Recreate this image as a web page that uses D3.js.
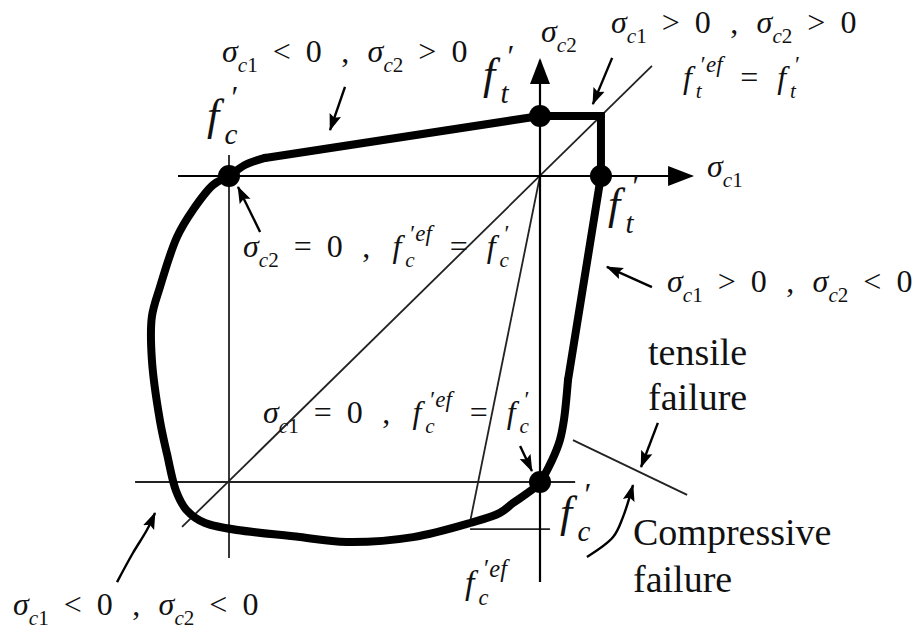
<!DOCTYPE html>
<html><head><meta charset="utf-8">
<script src="https://cdn.jsdelivr.net/npm/d3@7"></script>
<style>
html,body{margin:0;padding:0;background:#fff;}
svg{display:block;}
text{font-family:"Liberation Serif","Times New Roman",serif;fill:#111;}
</style></head><body>
<svg id="chart" width="921" height="632"></svg>
<script>
// Biaxial failure envelope of concrete; stresses normalised by f'c (compression negative).
const fc = -1;
const ft = 0.196;

// Smooth part of the envelope: compression-tension branch, compression-compression corner.
const envelopeCurved = [
  [0.090, -0.667], [0.077, -0.797], [0.064, -0.863], [0.039, -0.928], [0, -1.0],
  [-0.032, -1.03], [-0.087, -1.069], [-0.129, -1.101], [-0.225, -1.134], [-0.408, -1.180],
  [-0.621, -1.196], [-0.772, -1.180], [-1.077, -1.134], [-1.138, -1.09], [-1.170, -1.03],
  [-1.199, -0.91], [-1.222, -0.80], [-1.248, -0.60], [-1.248, -0.46], [-1.222, -0.363],
  [-1.167, -0.199], [-1.116, -0.111], [-1.051, -0.029], [-1, 0], [-0.949, 0.036], [-0.884, 0.059]
];
// Straight part: compression-tension line, tension cut-off square and tension-compression line.
const envelopeStraight = [
  [-0.884, 0.059], [0, ft], [ft, ft], [ft, 0], [0.090, -0.667]
];
// Uniaxial strength points on the envelope.
const keyPoints = [[fc, 0], [0, ft], [ft, 0], [0, fc]];

// Axes (with arrow heads) and construction lines.
const axisLines = [
  [[-1.164, 0], [0.489, 0]],
  [[0, -1.327], [0, 0.379]]
];
const guideLines = [
  [[fc, 0.069], [fc, -1.248]],          // sigma_c1 = f'c
  [[-1.302, fc], [0.113, fc]],          // sigma_c2 = f'c
  [[-1.151, -1.147], [0.36, 0.36]],     // equal biaxial ray
  [[0, 0], [-0.225, -1.131]],           // ray to f'c,ef
  [[-0.225, -1.154], [0.032, -1.154]],  // f'c,ef level
  [[0.106, -0.863], [0.473, -1.042]]    // tensile / compressive failure divide
];
// Pointer arrows, from tail to tip
const pointers = [
  [[-0.627, 0.291], [-0.675, 0.150]],
  [[0.232, 0.386], [0.170, 0.235]],
  [[-0.900, -0.183], [-0.971, -0.036]],
  [[0.360, -0.363], [0.215, -0.297]],
  [[-0.064, -0.882], [-0.026, -0.964]],
  [[0.379, -0.807], [0.325, -0.951]],
  [[0.151, -1.245], [0.235, -1.180], [0.267, -1.114], [0.299, -1.010]],
  [[-1.360, -1.327], [-1.309, -1.232], [-1.264, -1.157], [-1.238, -1.101]]
];

// Annotation texts
const mathTexts = [
  "σ_{c1} < 0 , σ_{c2} > 0",
  "σ_{c2}",
  "σ_{c1} > 0 , σ_{c2} > 0",
  "f^{'ef}_{t} = f^{'}_{t}",
  "σ_{c1}",
  "f^{'}_{t}",
  "σ_{c2} = 0 , f^{'ef}_{c} = f^{'}_{c}",
  "f^{'}_{c}",
  "f^{'}_{t}",
  "σ_{c1} > 0 , σ_{c2} < 0",
  "σ_{c1} = 0 , f^{'ef}_{c} = f^{'}_{c}",
  "f^{'}_{c}",
  "f^{'ef}_{c}",
  "σ_{c1} < 0 , σ_{c2} < 0"
];
const plainTexts = ["tensile", "failure", "Compressive", "failure"];

const svg = d3.select("#chart");
const x = d3.scaleLinear().domain([-1, 0]).range([229, 540]);
const y = d3.scaleLinear().domain([-1, 0]).range([482, 176]);

const defs = svg.append("defs");
defs.append("marker").attr("id", "axisHead").attr("markerUnits", "userSpaceOnUse")
  .attr("viewBox", "0 -11 26 22").attr("refX", 24).attr("refY", 0)
  .attr("markerWidth", 26).attr("markerHeight", 22).attr("orient", "auto")
  .append("path").attr("d", "M0,-10L26,0L0,10Z").attr("fill", "#000");
defs.append("marker").attr("id", "ptrHead").attr("markerUnits", "userSpaceOnUse")
  .attr("viewBox", "0 -7 17 14").attr("refX", 16).attr("refY", 0)
  .attr("markerWidth", 17).attr("markerHeight", 14).attr("orient", "auto")
  .append("path").attr("d", "M0,-6L17,0L0,6L3,0Z").attr("fill", "#000");

const lineGen = d3.line().x(d => x(d[0])).y(d => y(d[1]));

svg.append("g").selectAll("path").data(guideLines).join("path")
  .attr("d", lineGen).attr("fill", "none").attr("stroke", "#222").attr("stroke-width", 1.8);

svg.append("g").selectAll("path").data(axisLines).join("path")
  .attr("d", lineGen).attr("fill", "none").attr("stroke", "#000").attr("stroke-width", 2.2)
  .attr("marker-end", "url(#axisHead)");

const env = svg.append("g").attr("fill", "none").attr("stroke", "#000")
  .attr("stroke-width", 8).attr("stroke-linejoin", "round").attr("stroke-linecap", "round");
env.append("path").attr("d", d3.line().x(d => x(d[0])).y(d => y(d[1]))
  .curve(d3.curveCatmullRom.alpha(0.5))(envelopeCurved));
env.append("path").attr("d", lineGen(envelopeStraight)).attr("stroke-linejoin", "miter");

svg.append("g").selectAll("circle").data(keyPoints).join("circle")
  .attr("cx", d => x(d[0])).attr("cy", d => y(d[1])).attr("r", 11).attr("fill", "#000");

const ptrGen = d3.line().x(d => x(d[0])).y(d => y(d[1])).curve(d3.curveCatmullRom.alpha(0.5));
svg.append("g").selectAll("path").data(pointers).join("path")
  .attr("d", ptrGen).attr("fill", "none").attr("stroke", "#000").attr("stroke-width", 2.4)
  .attr("marker-end", "url(#ptrHead)");

// ---- math-style text layout: one <text> per label, glyph runs as positioned tspans ----
function isItalic(ch) { return /[A-Za-zσ]/.test(ch); }
function parse(src) {
  const toks = []; let i = 0;
  while (i < src.length) {
    const ch = src[i];
    if ((ch === "_" || ch === "^") && src[i + 1] === "{") {
      const end = src.indexOf("}", i);
      toks[toks.length - 1][ch === "_" ? "sub" : "sup"] = src.slice(i + 2, end);
      i = end + 1;
    } else { toks.push({ base: ch }); i++; }
  }
  return toks;
}
function mathLabel(px, py, src, size) {
  const t = svg.append("text").attr("font-size", size);
  const run = (str, rx, ry, sz) => {
    let w = 0;
    for (const ch of str) {
      const s = t.append("tspan").attr("x", rx + w).attr("y", ry).attr("font-size", sz)
        .attr("font-style", isItalic(ch) ? "italic" : "normal").text(ch === "'" ? "′" : ch);
      w += s.node().getComputedTextLength();
      if (ch === "f") w += sz * 0.12;   // italic f overhang
    }
    return w;
  };
  let cx = px;
  for (const tk of parse(src)) {
    if (tk.base === " ") { cx += size * 0.44; continue; }
    if (tk.base === ",") cx += size * 0.14;
    if (tk.base === "f" && cx > px) cx += size * 0.12;
    const w = run(tk.base, cx, py, size);
    let adv = w;
    const isF = tk.base === "f";
    if (tk.sub) {
      const ws = run(tk.sub, cx + w, py + size * 0.31, size * 0.66);
      adv = Math.max(adv, w + ws);
    }
    if (tk.sup) {
      const off = isF ? size * 0.16 : 0;
      const wp = run(tk.sup, cx + w + off, py - size * 0.5, size * 0.72);
      adv = Math.max(adv, w + off + wp);
    }
    cx += adv + size * 0.03;
    if (tk.base === ",") cx += size * 0.1;
  }
}

// label anchors (px): left edge, baseline, font size
const mathLayout = [
  [222, 62, 32], [541, 42, 32], [611, 33, 32], [683, 88, 32], [707, 177, 32],
  [483, 89, 44], [243, 257, 32], [207, 130, 44], [608, 219, 44], [667, 292, 32],
  [263, 423, 32], [560, 527, 44], [465, 594, 34], [13, 615, 32]
];
mathTexts.forEach((s, i) => mathLabel(mathLayout[i][0], mathLayout[i][1], s, mathLayout[i][2]));

const plainLayout = [[648, 365], [648, 410], [633, 545], [633, 592]];
svg.append("g").selectAll("text").data(plainTexts).join("text")
  .attr("x", (d, i) => plainLayout[i][0]).attr("y", (d, i) => plainLayout[i][1])
  .attr("font-size", 38).attr("fill", "#222").text(d => d);
</script>
</body></html>
